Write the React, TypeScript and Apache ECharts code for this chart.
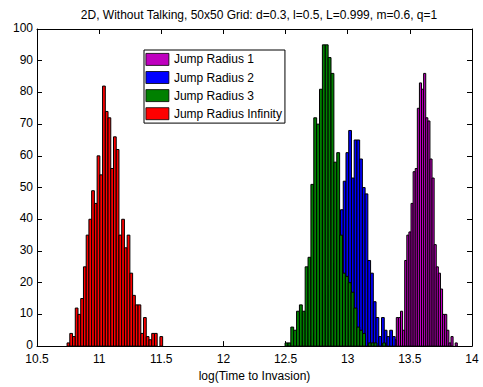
import React, { useEffect, useRef } from 'react';
import * as echarts from 'echarts';

const TITLE = '2D, Without Talking, 50x50 Grid: d=0.3, l=0.5, L=0.999, m=0.6, q=1';
const X_NAME = 'log(Time to Invasion)';
const FONT = '"Liberation Sans", Arial, Helvetica, sans-serif';

const SERIES_NAMES = ['Jump Radius 1', 'Jump Radius 2', 'Jump Radius 3', 'Jump Radius Infinity'];
const SERIES_COLORS = ['#bf00bf', '#0000ff', '#008000', '#ff0000'];

// Jump Radius 1 (magenta)
const r1Start = 13.374;
const r1BinWidth = 0.01692;
const r1Counts = [2, 9, 9, 11, 5, 27, 35, 36, 45, 55, 56, 75, 83, 81, 86, 72, 71, 59, 53, 32, 25, 23, 18, 10, 10, 5, 1, 3, 0, 1];

// Jump Radius 2 (blue)
const r2Start = 12.634;
const r2BinWidth = 0.022;
const r2Counts = [1, 0, 2, 3, 4, 7, 9, 12, 16, 19, 22, 26, 29, 33, 43, 52, 61, 68, 53, 65, 65, 59, 50, 48, 27, 23, 14, 9, 3, 9, 5, 3, 5, 3];

// Jump Radius 3 (green)
const r3Start = 12.496;
const r3BinWidth = 0.0231;
const r3Counts = [1, 1, 6, 5, 11, 13, 11, 25, 28, 51, 72, 70, 81, 95, 95, 91, 86, 58, 61, 35, 23, 22, 20, 17, 12, 6, 5, 4, 0, 1, 1, 1, 0, 0, 1];

// Jump Radius Infinity (red)
const rInfStart = 10.742;
const rInfBinWidth = 0.02197;
const rInfCounts = [1, 4, 3, 12, 10, 15, 25, 35, 40, 49, 45, 60, 54, 82, 74, 72, 56, 66, 62, 35, 40, 31, 35, 23, 16, 13, 13, 4, 9, 3, 2, 4, 4, 0, 3];

const X_MIN = 10.5;
const X_MAX = 14;
const X_INTERVAL = 0.5;
const Y_MIN = 0;
const Y_MAX = 100;
const Y_INTERVAL = 10;

function bins(start: number, width: number, counts: number[]) {
  return counts.map((c, i) => [start + i * width, start + (i + 1) * width, c]);
}

const SERIES_DATA = [
  bins(r1Start, r1BinWidth, r1Counts),
  bins(r2Start, r2BinWidth, r2Counts),
  bins(r3Start, r3BinWidth, r3Counts),
  bins(rInfStart, rInfBinWidth, rInfCounts),
];

export default function App() {
  const ref = useRef<HTMLDivElement>(null);

  useEffect(() => {
    if (!ref.current) return;
    const chart = echarts.init(ref.current, undefined, { renderer: 'svg' });

    const axisCommon = {
      type: 'value' as const,
      axisLine: { show: true, onZero: false, lineStyle: { color: '#000', width: 1 } },
      axisTick: { show: true, inside: true, length: 5, lineStyle: { color: '#000', width: 1 } },
      splitLine: { show: false },
    };

    const series = SERIES_NAMES.map((name, si) => ({
      type: 'custom' as const,
      name,
      xAxisIndex: 0,
      yAxisIndex: 0,
      encode: { x: [0, 1], y: 2 },
      data: SERIES_DATA[si],
      itemStyle: { color: SERIES_COLORS[si] },
      renderItem: (params: any, api: any) => {
        const x0 = api.value(0);
        const x1 = api.value(1);
        const y = api.value(2);
        if (!y) return null;
        const p0 = api.coord([x0, y]);
        const p1 = api.coord([x1, 0]);
        return {
          type: 'rect',
          shape: { x: p0[0], y: p0[1], width: p1[0] - p0[0], height: p1[1] - p0[1] },
          style: { fill: SERIES_COLORS[si], stroke: '#000', lineWidth: 1 },
        };
      },
    }));

    chart.setOption({
      animation: false,
      backgroundColor: '#fff',
      title: {
        text: TITLE,
        left: 254,
        textAlign: 'center',
        top: 4,
        textStyle: { fontSize: 12, fontWeight: 'normal', color: '#000', fontFamily: FONT },
      },
      grid: { left: 37, right: 11, top: 29, bottom: 35, containLabel: false },
      xAxis: [
        {
          ...axisCommon,
          position: 'bottom',
          min: X_MIN,
          max: X_MAX,
          interval: X_INTERVAL,
          axisLabel: { color: '#000', fontSize: 12, fontFamily: FONT, margin: 7, showMinLabel: true, showMaxLabel: true },
          name: X_NAME,
          nameLocation: 'middle',
          nameGap: 20,
          nameTextStyle: { color: '#000', fontSize: 12, fontFamily: FONT },
        },
        {
          ...axisCommon,
          position: 'top',
          min: X_MIN,
          max: X_MAX,
          interval: X_INTERVAL,
          axisLabel: { show: false },
        },
      ],
      yAxis: [
        {
          ...axisCommon,
          position: 'left',
          min: Y_MIN,
          max: Y_MAX,
          interval: Y_INTERVAL,
          axisLabel: {
            color: '#000',
            fontSize: 12,
            fontFamily: FONT,
            margin: 4,
            showMinLabel: true,
            showMaxLabel: true,
            verticalAlign: 'bottom',
            lineHeight: 12,
            padding: [0, 0, -5, 0],
          },
        },
        {
          ...axisCommon,
          position: 'right',
          min: Y_MIN,
          max: Y_MAX,
          interval: Y_INTERVAL,
          axisLabel: { show: false },
        },
      ],
      legend: {
        orient: 'vertical',
        left: 144,
        top: 50,
        itemWidth: 23,
        itemHeight: 12,
        itemGap: 5.3,
        padding: [3, 3, 3, 1.5],
        backgroundColor: '#fff',
        borderColor: '#000',
        borderWidth: 1,
        selectedMode: false,
        textStyle: { fontSize: 12, color: '#000', fontFamily: FONT },
        data: SERIES_NAMES.map((n, i) => ({
          name: n,
          icon: 'rect',
          itemStyle: { color: SERIES_COLORS[i], borderColor: '#000', borderWidth: 0.8 },
        })),
      },
      series,
    });

    return () => {
      chart.dispose();
    };
  }, []);

  return (
    <div
      ref={ref}
      style={{ position: 'fixed', left: 0, top: 0, width: 483, height: 387, background: '#fff' }}
    />
  );
}
